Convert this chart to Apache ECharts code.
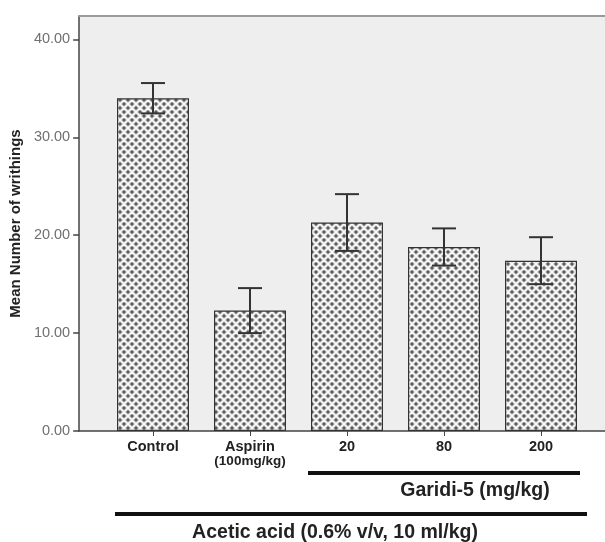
<!DOCTYPE html>
<html>
<head>
<meta charset="utf-8">
<script src="https://cdn.jsdelivr.net/npm/echarts@6/dist/echarts.min.js"></script>
<style>html,body{margin:0;padding:0;background:#fff}#c{width:605px;height:542px}</style>
</head>
<body>
<div id="c"></div>
<script>
var categories = ['Control', 'Aspirin\n(100mg/kg)', '20', '80', '200'];
var meanValues = [34.0, 12.3, 21.3, 18.8, 17.4];
var errorValues = [1.55, 2.3, 2.9, 1.9, 2.4];
var yTickLabels = ['0.00', '10.00', '20.00', '30.00', '40.00'];

function makePattern() {
  var s = 8;
  var cv = document.createElement('canvas');
  cv.width = s; cv.height = s;
  var g = cv.getContext('2d');
  g.fillStyle = '#9c9c9c';
  g.fillRect(0, 0, s, s);
  g.strokeStyle = '#fbfbfb';
  g.lineWidth = 1.7;
  g.beginPath();
  g.moveTo(0, 0); g.lineTo(s, s);
  g.moveTo(s, 0); g.lineTo(0, s);
  g.moveTo(-s/2, s/2); g.lineTo(s/2, s*1.5);
  g.moveTo(s/2, -s/2); g.lineTo(s*1.5, s/2);
  g.moveTo(s/2, -s/2); g.lineTo(-s/2, s/2);
  g.moveTo(s*1.5, s/2); g.lineTo(s/2, s*1.5);
  g.stroke();
  g.fillStyle = '#5a5a5a';
  [[s/2, 0], [s/2, s], [0, s/2], [s, s/2]].forEach(function (p) {
    g.beginPath(); g.arc(p[0], p[1], 1.2, 0, Math.PI*2); g.fill();
  });
  return cv;
}

var chart = echarts.init(document.getElementById('c'), null, {renderer: 'canvas'});
var font = 'Liberation Sans, Arial, sans-serif';
var yMax = 42.4;

var errData = meanValues.map(function (v, i) { return [i, v - errorValues[i], v + errorValues[i]]; });

chart.setOption({
  animation: false,
  grid: [
    {left: 79, right: 0, top: 16, bottom: 111, show: true, backgroundColor: '#eeeeee', borderWidth: 0},
    {left: 104.5, right: 15.5, top: 16, bottom: 111}
  ],
  xAxis: [
    {gridIndex: 0, type: 'value', min: 0, max: 1, axisLine: {show: true, lineStyle: {color: '#444', width: 1.5}}, axisTick: {show: false}, axisLabel: {show: false}, splitLine: {show: false}},
    {gridIndex: 0, type: 'value', position: 'top', min: 0, max: 1, axisLine: {show: true, lineStyle: {color: '#9a9a9a', width: 2}}, axisTick: {show: false}, axisLabel: {show: false}, splitLine: {show: false}},
    {gridIndex: 1, type: 'category', data: categories, axisLine: {show: false},
      axisTick: {show: true, alignWithLabel: true, length: 5, lineStyle: {color: '#444', width: 1}},
      axisLabel: {interval: 0, margin: 8, fontFamily: font, fontWeight: 'bold', fontSize: 14.5, color: '#222', lineHeight: 15,
        formatter: function (v) {
          var p = v.split('\n');
          return p.length > 1 ? '{a|' + p[0] + '}\n{b|' + p[1] + '}' : v;
        },
        rich: {a: {fontFamily: font, fontWeight: 'bold', fontSize: 14.5, color: '#222', lineHeight: 15},
               b: {fontFamily: font, fontWeight: 'bold', fontSize: 13.5, color: '#222', lineHeight: 15}}}}
  ],
  yAxis: [
    {gridIndex: 0, type: 'value', min: 0, max: yMax, interval: 10,
      name: 'Mean Number of writhings', nameLocation: 'middle', nameGap: 50,
      nameTextStyle: {fontFamily: font, fontWeight: 'bold', fontSize: 15, color: '#222'},
      axisLine: {show: true, lineStyle: {color: '#444', width: 1.5}},
      axisTick: {show: true, length: 6, lineStyle: {color: '#444', width: 1.5}},
      axisLabel: {showMaxLabel: false, margin: 9, fontFamily: font, fontSize: 14.5, color: '#707070',
        formatter: function (v) { var i = Math.round(v / 10); return (Math.abs(v - i * 10) < 1e-6 && yTickLabels[i]) ? yTickLabels[i] : ''; }},
      splitLine: {show: false}},
    {gridIndex: 1, type: 'value', min: 0, max: yMax, interval: 10, show: false, splitLine: {show: false}}
  ],
  series: [
    {type: 'bar', xAxisIndex: 2, yAxisIndex: 1, data: meanValues, barWidth: 72,
      itemStyle: {color: {image: makePattern(), repeat: 'repeat'}, borderColor: '#333', borderWidth: 1.2}},
    {type: 'custom', xAxisIndex: 2, yAxisIndex: 1, data: errData, z: 10,
      renderItem: function (params, api) {
        var x = api.value(0);
        var lo = api.coord([x, api.value(1)]);
        var hi = api.coord([x, api.value(2)]);
        var hw = 12;
        var st = {stroke: '#333', lineWidth: 2};
        return {type: 'group', children: [
          {type: 'line', shape: {x1: hi[0], y1: hi[1], x2: lo[0], y2: lo[1]}, style: st},
          {type: 'line', shape: {x1: hi[0] - hw, y1: hi[1], x2: hi[0] + hw, y2: hi[1]}, style: st},
          {type: 'line', shape: {x1: lo[0] - hw, y1: lo[1], x2: lo[0] + hw, y2: lo[1]}, style: st}
        ]};
      }}
  ],
  graphic: [
    {type: 'line', shape: {x1: 308, y1: 473, x2: 580, y2: 473}, style: {stroke: '#111', lineWidth: 4}},
    {type: 'text', x: 475, y: 491, style: {text: 'Garidi-5 (mg/kg)', font: 'bold 19.5px ' + font, fill: '#222', textAlign: 'center', textVerticalAlign: 'middle'}},
    {type: 'line', shape: {x1: 115, y1: 514, x2: 587, y2: 514}, style: {stroke: '#111', lineWidth: 4}},
    {type: 'text', x: 335, y: 533, style: {text: 'Acetic acid (0.6% v/v, 10 ml/kg)', font: 'bold 19.5px ' + font, fill: '#222', textAlign: 'center', textVerticalAlign: 'middle'}}
  ]
});
</script>
</body>
</html>
